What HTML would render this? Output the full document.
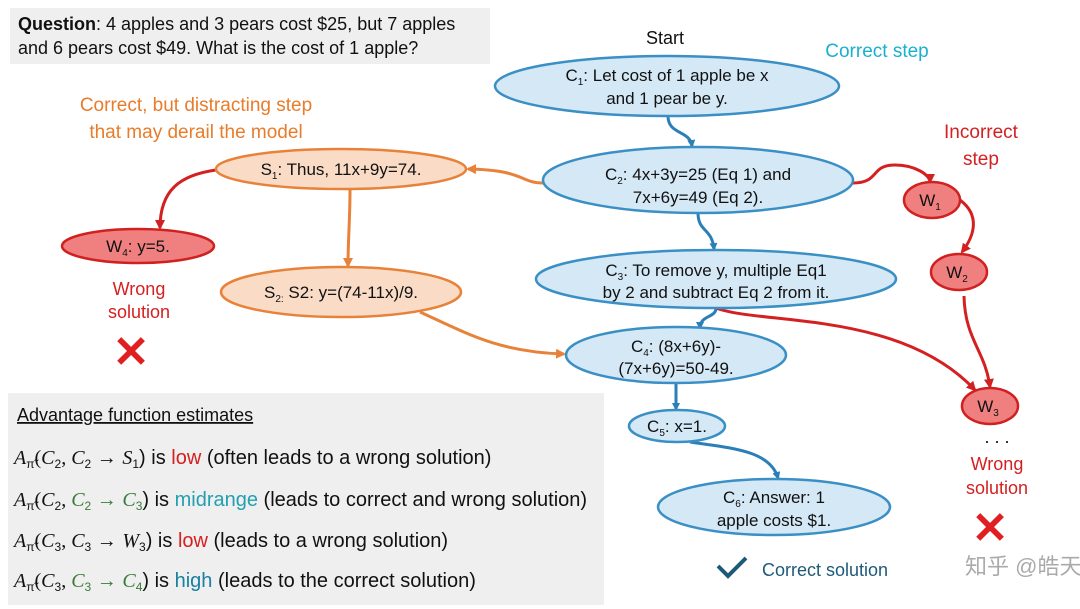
<!DOCTYPE html><html><head><meta charset="utf-8"><style>body{margin:0;background:#fff}svg{display:block}text{font-family:"Liberation Sans","Noto Sans CJK SC",sans-serif}</style></head><body>
<svg width="1080" height="609" viewBox="0 0 1080 609" xmlns="http://www.w3.org/2000/svg">
<defs>
<marker id="ab" markerWidth="8" markerHeight="8" refX="6" refY="4" orient="auto" markerUnits="userSpaceOnUse"><path d="M0,0L8,4L0,8z" fill="#2a7fb8"/></marker>
<marker id="ar" markerWidth="10" markerHeight="10" refX="8" refY="5" orient="auto" markerUnits="userSpaceOnUse"><path d="M0,0L10,5L0,10z" fill="#d42020"/></marker>
<marker id="ao" markerWidth="10" markerHeight="10" refX="8" refY="5" orient="auto" markerUnits="userSpaceOnUse"><path d="M0,0L10,5L0,10z" fill="#e8823a"/></marker>
</defs>
<rect x="10" y="8" width="480" height="56" fill="#efefef"/>
<text x="18" y="30" font-size="18" fill="#111"><tspan font-weight="bold">Question</tspan>: 4 apples and 3 pears cost $25, but 7 apples</text>
<text x="18" y="54" font-size="18" fill="#111">and 6 pears cost $49. What is the cost of 1 apple?</text>
<text x="665" y="44" font-size="18" text-anchor="middle" fill="#111">Start</text>
<text x="877" y="57" font-size="19" text-anchor="middle" fill="#1ab0d0">Correct step</text>
<text x="196" y="111" font-size="19" text-anchor="middle" fill="#e87c2a">Correct, but distracting step</text>
<text x="196" y="138" font-size="19" text-anchor="middle" fill="#e87c2a">that may derail the model</text>
<text x="981" y="138" font-size="19" text-anchor="middle" fill="#d42020">Incorrect</text>
<text x="981" y="165" font-size="19" text-anchor="middle" fill="#d42020">step</text>
<g fill="none" stroke-width="3">
<path d="M668,116 C668,135 690,130 692,146" stroke="#2a7fb8" marker-end="url(#ab)"/>
<path d="M698,213 C698,232 712,228 714,249" stroke="#2a7fb8" marker-end="url(#ab)"/>
<path d="M716,308 C716,318 700,315 700,328" stroke="#2a7fb8" marker-end="url(#ab)"/>
<path d="M676,383 C676,395 676,398 676,409" stroke="#2a7fb8" marker-end="url(#ab)"/>
<path d="M690,442 C730,448 770,450 778,478" stroke="#2a7fb8" marker-end="url(#ab)"/>
<path d="M543,183 C520,183 525,170 468,169" stroke="#e8823a" marker-end="url(#ao)"/>
<path d="M350,190 C350,220 348,240 348,266" stroke="#e8823a" marker-end="url(#ao)"/>
<path d="M420,312 C470,335 500,352 564,354" stroke="#e8823a" marker-end="url(#ao)"/>
<path d="M216,170 C180,175 160,190 160,228" stroke="#d42020" marker-end="url(#ar)"/>
<path d="M853,183 C880,183 870,165 895,165 C915,165 930,175 930,182" stroke="#d42020" marker-end="url(#ar)"/>
<path d="M960,200 C980,215 975,235 962,252" stroke="#d42020" marker-end="url(#ar)"/>
<path d="M964,296 C965,340 985,350 990,387" stroke="#d42020" marker-end="url(#ar)"/>
<path d="M716,308 C760,325 900,310 975,390" stroke="#d42020" marker-end="url(#ar)"/>
</g>
<g stroke-width="2.5" font-size="17" text-anchor="middle" fill="#111">
<ellipse cx="667" cy="86" rx="172" ry="30" fill="#d4e8f6" stroke="#3a8fc4"/>
<text x="667" y="81" stroke="none">C<tspan font-size="10" dy="4">1</tspan><tspan dy="-4">: Let cost of 1 apple be x</tspan></text>
<text x="667" y="104" stroke="none">and 1 pear be y.</text>
<ellipse cx="698" cy="180" rx="155" ry="33" fill="#d4e8f6" stroke="#3a8fc4"/>
<text x="698" y="180" stroke="none">C<tspan font-size="10" dy="4">2</tspan><tspan dy="-4">: 4x+3y=25 (Eq 1) and</tspan></text>
<text x="698" y="203" stroke="none">7x+6y=49 (Eq 2).</text>
<ellipse cx="716" cy="279" rx="180" ry="29" fill="#d4e8f6" stroke="#3a8fc4"/>
<text x="716" y="276" stroke="none">C<tspan font-size="10" dy="4">3</tspan><tspan dy="-4">: To remove y, multiple Eq1</tspan></text>
<text x="716" y="298" stroke="none">by 2 and subtract Eq 2 from it.</text>
<ellipse cx="676" cy="355" rx="110" ry="28" fill="#d4e8f6" stroke="#3a8fc4"/>
<text x="676" y="352" stroke="none">C<tspan font-size="10" dy="4">4</tspan><tspan dy="-4">:  (8x+6y)-</tspan></text>
<text x="676" y="374" stroke="none">(7x+6y)=50-49.</text>
<ellipse cx="677" cy="426" rx="48" ry="16" fill="#d4e8f6" stroke="#3a8fc4"/>
<text x="677" y="432" stroke="none">C<tspan font-size="10" dy="4">5</tspan><tspan dy="-4">: x=1.</tspan></text>
<ellipse cx="774" cy="507" rx="116" ry="28" fill="#d4e8f6" stroke="#3a8fc4"/>
<text x="774" y="503" stroke="none">C<tspan font-size="10" dy="4">6</tspan><tspan dy="-4">: Answer: 1</tspan></text>
<text x="774" y="526" stroke="none">apple costs $1.</text>
<ellipse cx="341" cy="169" rx="125" ry="20" fill="#fadcc6" stroke="#e8823a"/>
<text x="341" y="175" stroke="none">S<tspan font-size="10" dy="4">1</tspan><tspan dy="-4">: Thus, 11x+9y=74.</tspan></text>
<ellipse cx="341" cy="292" rx="120" ry="25" fill="#fadcc6" stroke="#e8823a"/>
<text x="341" y="298" stroke="none">S<tspan font-size="10" dy="4">2:</tspan><tspan dy="-4"> S2: y=(74-11x)/9.</tspan></text>
<ellipse cx="138" cy="246" rx="76" ry="17" fill="#f08080" stroke="#d02020"/>
<text x="138" y="252" stroke="none">W<tspan font-size="10" dy="4">4</tspan><tspan dy="-4">: y=5.</tspan></text>
<ellipse cx="932" cy="200" rx="28" ry="18" fill="#f08080" stroke="#d02020"/>
<text x="930" y="206" stroke="none">W<tspan font-size="10" dy="4">1</tspan></text>
<ellipse cx="959" cy="272" rx="28" ry="18" fill="#f08080" stroke="#d02020"/>
<text x="957" y="278" stroke="none">W<tspan font-size="10" dy="4">2</tspan></text>
<ellipse cx="990" cy="406" rx="28" ry="18" fill="#f08080" stroke="#d02020"/>
<text x="988" y="412" stroke="none">W<tspan font-size="10" dy="4">3</tspan></text>
</g>
<text x="139" y="295" font-size="18" text-anchor="middle" fill="#d42020">Wrong</text>
<text x="139" y="318" font-size="18" text-anchor="middle" fill="#d42020">solution</text>
<text x="131" y="367" font-size="44" text-anchor="middle" fill="#e02020" font-weight="bold">✕</text>
<text x="997" y="443" font-size="18" text-anchor="middle" fill="#111">. . .</text>
<text x="997" y="470" font-size="18" text-anchor="middle" fill="#d42020">Wrong</text>
<text x="997" y="494" font-size="18" text-anchor="middle" fill="#d42020">solution</text>
<text x="990" y="543" font-size="44" text-anchor="middle" fill="#e02020" font-weight="bold">✕</text>
<path d="M718,566 L728,576 L746,558" fill="none" stroke="#1d5a7a" stroke-width="4"/>
<text x="762" y="576" font-size="18" fill="#1d5a7a">Correct solution</text>
<text x="965" y="574" font-size="22" fill="#aaa">知乎 @皓天</text>
<rect x="8" y="393" width="596" height="212" fill="#efefef"/>
<text x="17" y="421" font-size="18" fill="#111" text-decoration="underline">Advantage function estimates</text>
<g font-size="20" fill="#111">
<text x="14" y="464"><tspan font-family="Liberation Serif" font-style="italic">A</tspan><tspan font-size="12" dy="4">π̃</tspan><tspan dy="-4" font-family="Liberation Serif">(<tspan font-style="italic">C</tspan></tspan><tspan font-size="12" dy="4">2</tspan><tspan dy="-4" font-family="Liberation Serif">, <tspan font-style="italic">C</tspan></tspan><tspan font-size="12" dy="4">2</tspan><tspan dy="-4"> → </tspan><tspan font-family="Liberation Serif" font-style="italic">S</tspan><tspan font-size="12" dy="4">1</tspan><tspan dy="-4">) is </tspan><tspan fill="#d42020">low</tspan> (often leads to a wrong solution)</text>
<text x="14" y="506"><tspan font-family="Liberation Serif" font-style="italic">A</tspan><tspan font-size="12" dy="4">π̃</tspan><tspan dy="-4" font-family="Liberation Serif">(<tspan font-style="italic">C</tspan></tspan><tspan font-size="12" dy="4">2</tspan><tspan dy="-4" font-family="Liberation Serif">, </tspan><tspan fill="#3a7a3a" font-family="Liberation Serif" font-style="italic">C</tspan><tspan fill="#3a7a3a" font-size="12" dy="4">2</tspan><tspan fill="#3a7a3a" dy="-4"> → </tspan><tspan fill="#3a7a3a" font-family="Liberation Serif" font-style="italic">C</tspan><tspan fill="#3a7a3a" font-size="12" dy="4">3</tspan><tspan dy="-4">) is </tspan><tspan fill="#22a0b0">midrange</tspan> (leads to correct and wrong solution)</text>
<text x="14" y="547"><tspan font-family="Liberation Serif" font-style="italic">A</tspan><tspan font-size="12" dy="4">π̃</tspan><tspan dy="-4" font-family="Liberation Serif">(<tspan font-style="italic">C</tspan></tspan><tspan font-size="12" dy="4">3</tspan><tspan dy="-4" font-family="Liberation Serif">, <tspan font-style="italic">C</tspan></tspan><tspan font-size="12" dy="4">3</tspan><tspan dy="-4"> → </tspan><tspan font-family="Liberation Serif" font-style="italic">W</tspan><tspan font-size="12" dy="4">3</tspan><tspan dy="-4">) is </tspan><tspan fill="#d42020">low</tspan> (leads to a wrong solution)</text>
<text x="14" y="587"><tspan font-family="Liberation Serif" font-style="italic">A</tspan><tspan font-size="12" dy="4">π̃</tspan><tspan dy="-4" font-family="Liberation Serif">(<tspan font-style="italic">C</tspan></tspan><tspan font-size="12" dy="4">3</tspan><tspan dy="-4" font-family="Liberation Serif">, </tspan><tspan fill="#3a7a3a" font-family="Liberation Serif" font-style="italic">C</tspan><tspan fill="#3a7a3a" font-size="12" dy="4">3</tspan><tspan fill="#3a7a3a" dy="-4"> → </tspan><tspan fill="#3a7a3a" font-family="Liberation Serif" font-style="italic">C</tspan><tspan fill="#3a7a3a" font-size="12" dy="4">4</tspan><tspan dy="-4">) is </tspan><tspan fill="#1a7fa0">high</tspan> (leads to the correct solution)</text>
</g>
</svg>
</body></html>
